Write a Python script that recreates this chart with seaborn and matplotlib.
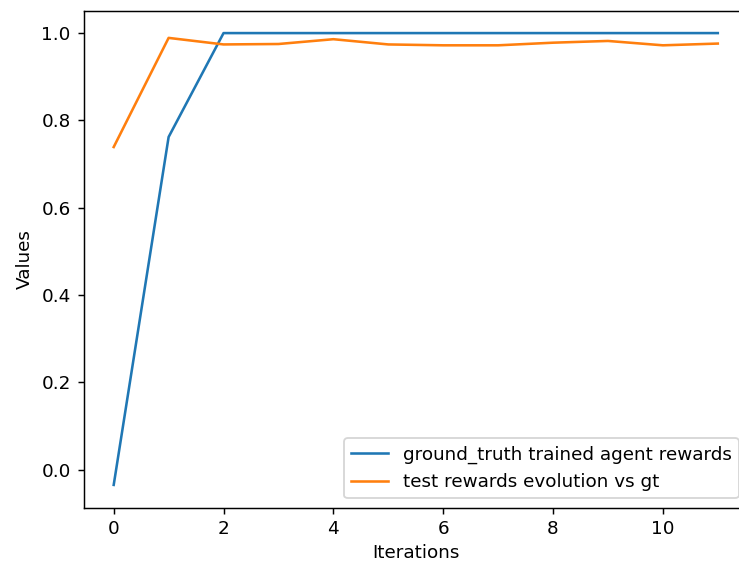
import matplotlib
matplotlib.use("Agg")
import matplotlib.pyplot as plt
import seaborn as sns
import pandas as pd

iterations = list(range(12))
gt_rewards = [-0.035, 0.762, 1.0, 1.0, 1.0, 1.0, 1.0, 1.0, 1.0, 1.0, 1.0, 1.0]
test_rewards = [0.739, 0.989, 0.974, 0.975, 0.986, 0.974, 0.972, 0.972, 0.978, 0.982, 0.972, 0.976]
labels = ["ground_truth trained agent rewards", "test rewards evolution vs gt"]

df = pd.DataFrame({
    "Iterations": iterations * 2,
    "Values": gt_rewards + test_rewards,
    "series": [labels[0]] * 12 + [labels[1]] * 12,
})

DPI = 132
W, H = 739, 562
fig = plt.figure(figsize=(W / DPI, H / DPI), dpi=DPI)
left, right, top, bottom = 83.5, 748, 10.5, 507.5
ax = fig.add_axes([left / W, 1 - bottom / H, (right - left) / W, (bottom - top) / H])
sns.lineplot(data=df, x="Iterations", y="Values", hue="series",
             palette=["#1f77b4", "#ff7f0e"], ax=ax, linewidth=1.4)
ax.legend(title=None, loc="lower right")
ax.set_xlabel("Iterations", labelpad=3)
ax.set_ylabel("Values")
fig.savefig("out.png", dpi=DPI)
